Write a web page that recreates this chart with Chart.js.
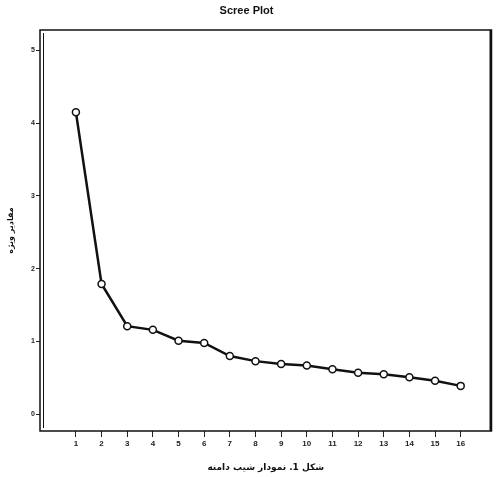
<!DOCTYPE html>
<html>
<head>
<meta charset="utf-8">
<script src="https://cdn.jsdelivr.net/npm/chart.js@4.4.1/dist/chart.umd.min.js"></script>
<style>
  html, body { margin: 0; padding: 0; background: #fff; }
  #wrap { width: 497px; height: 477px; position: relative; }
</style>
</head>
<body>
<div id="wrap"><canvas id="c"></canvas></div>
<script>
const componentNumbers = [1, 2, 3, 4, 5, 6, 7, 8, 9, 10, 11, 12, 13, 14, 15, 16];
const eigenvalues = [4.15, 1.79, 1.21, 1.16, 1.01, 0.98, 0.80, 0.73, 0.69, 0.67, 0.62, 0.57, 0.55, 0.51, 0.46, 0.39];
const xTickValues = [1, 2, 3, 4, 5, 6, 7, 8, 9, 10, 11, 12, 13, 14, 15, 16];
const yTickValues = [0, 1, 2, 3, 4, 5];
const chartTitle = 'Scree Plot';
const xAxisTitle = 'شکل 1. نمودار شیب دامنه';
const yAxisTitle = 'مقادیر ویژه';

const points = componentNumbers.map((x, i) => ({ x: x, y: eigenvalues[i] }));

const framePlugin = {
  id: 'frame',
  afterDraw(chart) {
    const { ctx, chartArea: a } = chart;
    ctx.save();
    ctx.strokeStyle = '#111';
    ctx.lineWidth = 1.5;
    ctx.strokeRect(a.left, a.top, a.right - a.left, a.bottom - a.top);
    ctx.lineWidth = 1;
    ctx.beginPath();
    ctx.moveTo(a.left + 3.5, a.top + 3);
    ctx.lineTo(a.left + 3.5, a.bottom - 3);
    ctx.stroke();
    ctx.lineWidth = 2;
    ctx.beginPath();
    ctx.moveTo(a.right - 1, a.top);
    ctx.lineTo(a.right - 1, a.bottom);
    ctx.stroke();
    ctx.restore();
  }
};

new Chart(document.getElementById('c'), {
  type: 'line',
  data: {
    datasets: [{
      data: points,
      borderColor: '#111',
      borderWidth: 2.5,
      pointRadius: 3.5,
      pointBorderWidth: 1.5,
      pointBackgroundColor: '#fff',
      pointBorderColor: '#111',
      tension: 0,
      fill: false
    }]
  },
  options: {
    responsive: true,
    maintainAspectRatio: false,
    animation: false,
    layout: { padding: { left: 0, right: 4, top: 0, bottom: 0 } },
    plugins: {
      legend: { display: false },
      tooltip: { enabled: false },
      title: {
        display: true,
        text: chartTitle,
        color: '#111',
        font: { family: 'Liberation Sans', size: 11, weight: 'bold' },
        padding: { top: 4, bottom: 12.8 }
      }
    },
    scales: {
      x: {
        type: 'linear',
        min: -0.4,
        max: 17.2,
        afterBuildTicks(s) { s.ticks = xTickValues.map(v => ({ value: v })); },
        afterFit(s) { s.height = 46; },
        border: { display: false },
        grid: { drawOnChartArea: false, drawTicks: true, tickLength: 6, color: '#222', lineWidth: 1 },
        ticks: { color: '#222', font: { family: 'Liberation Sans', size: 8, weight: 'bold' }, padding: 2, maxRotation: 0, autoSkip: false },
        title: {
          display: true,
          text: xAxisTitle,
          color: '#111',
          font: { family: 'DejaVu Sans', size: 9, weight: 'bold' },
          padding: { top: 8, bottom: 4 }
        }
      },
      y: {
        type: 'linear',
        min: -0.23,
        max: 5.28,
        afterBuildTicks(s) { s.ticks = yTickValues.map(v => ({ value: v })); },
        afterFit(s) { s.width = 40; },
        border: { display: false },
        grid: { drawOnChartArea: false, drawTicks: true, tickLength: 4, color: '#222', lineWidth: 1 },
        ticks: { color: '#222', font: { family: 'Liberation Sans', size: 7, weight: 'bold' }, padding: 1 },
        title: {
          display: true,
          text: yAxisTitle,
          color: '#111',
          font: { family: 'DejaVu Sans', size: 8, weight: 'bold' },
          padding: { top: 6, bottom: 2 }
        }
      }
    }
  },
  plugins: [framePlugin]
});
</script>
</body>
</html>
